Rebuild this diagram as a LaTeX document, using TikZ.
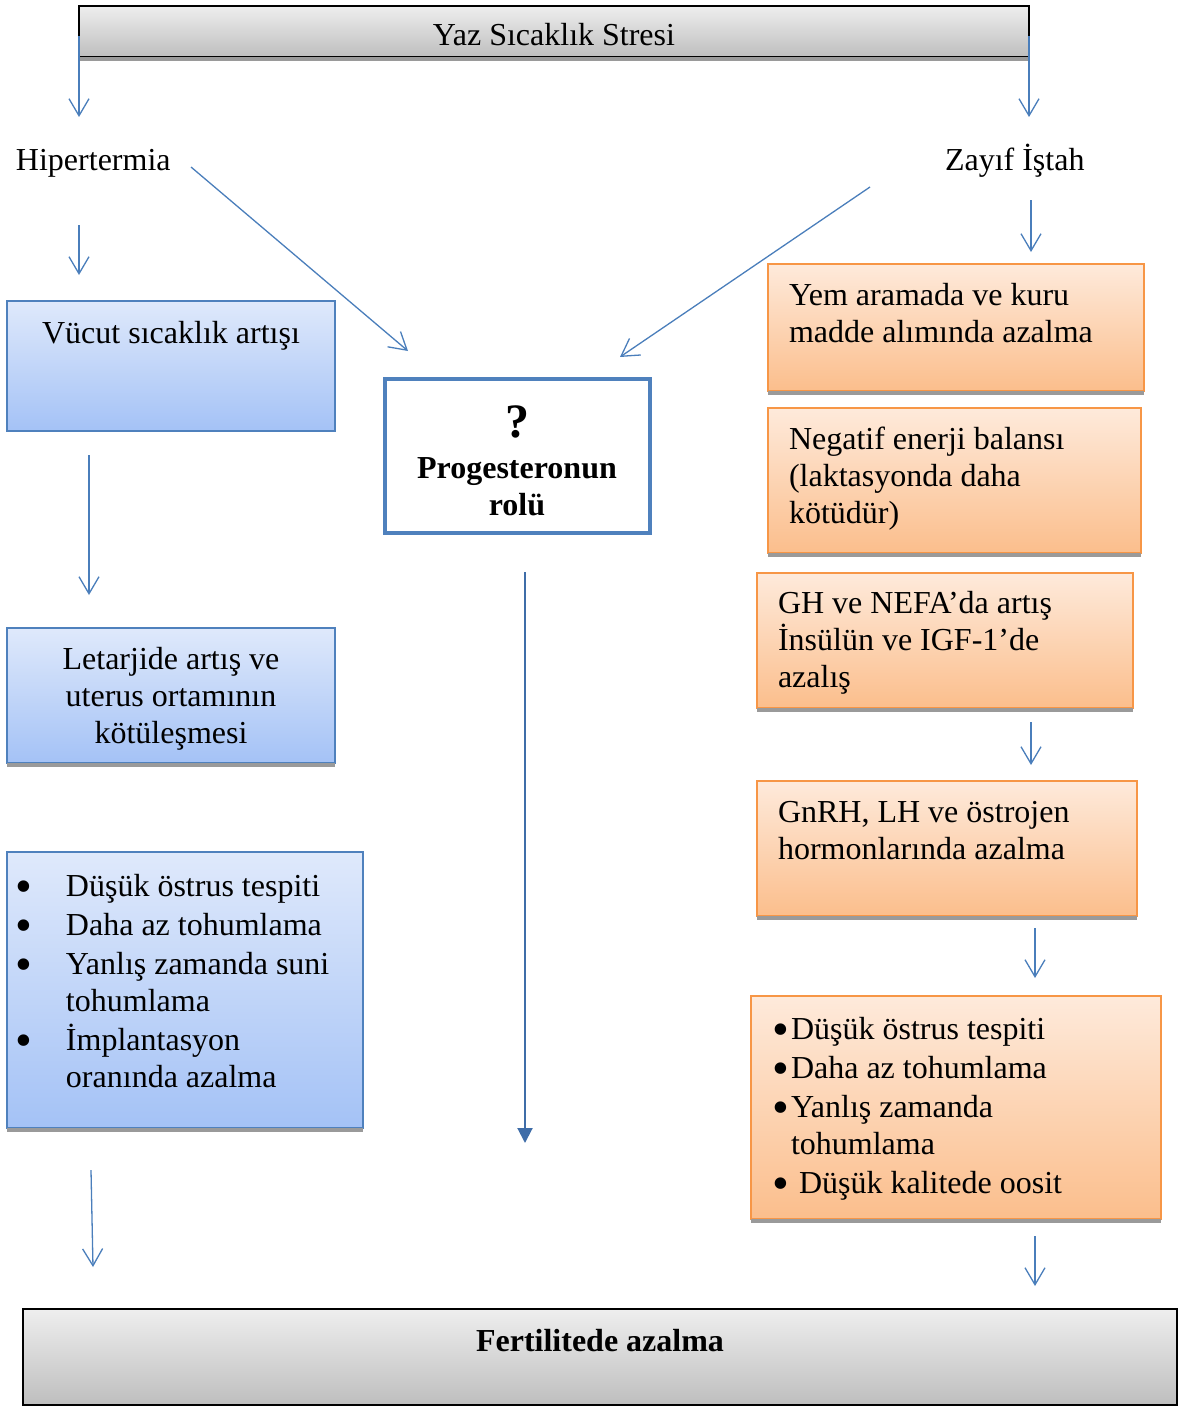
\documentclass[tikz,border=0pt]{standalone}
\usepackage{fontspec}
\setmainfont{Liberation Serif}
\usetikzlibrary{arrows.meta,calc}
\definecolor{arrowblue}{HTML}{4A7EBB}
\definecolor{darkarrow}{HTML}{3F6DA8}
\definecolor{boxblue}{HTML}{4F81BD}
\definecolor{bluetop}{HTML}{DFE9FB}
\definecolor{bluebot}{HTML}{A4C2F6}
\definecolor{orangeborder}{HTML}{F79646}
\definecolor{orangetop}{HTML}{FEEADB}
\definecolor{orangebot}{HTML}{FBBE8C}
\definecolor{graytop}{HTML}{EEEEEE}
\definecolor{graybot}{HTML}{BEBEBE}
\definecolor{shadowgray}{HTML}{9A9A9A}
\newcommand\fl{\rule{0pt}{26pt}}
\newcommand\bul[1]{\makebox[#1][l]{\smash{\raisebox{-6pt}{\fontsize{48}{37}\selectfont •}}}}
\begin{document}
\begin{tikzpicture}[x=1pt,y=-1pt,
  every node/.style={inner sep=0pt,outer sep=0pt},
  txt/.style={font=\fontsize{32}{37}\selectfont, align=left},
  ctxt/.style={font=\fontsize{32}{37}\selectfont, align=center},
  btxt/.style={font=\fontsize{32}{37}\selectfont\bfseries, align=center},
  qtxt/.style={font=\fontsize{48}{50}\selectfont\bfseries},
  graybox/.style={draw=black,line width=1.6pt,top color=graytop,bottom color=graybot},
  bluebox/.style={draw=boxblue,line width=1.5pt,top color=bluetop,bottom color=bluebot},
  orangebox/.style={draw=orangeborder,line width=1.5pt,top color=orangetop,bottom color=orangebot},
  centerbox/.style={draw=boxblue,line width=4pt,fill=white},
  shadowstrip/.style={fill=shadowgray},
  arr/.style={draw=arrowblue,line width=1.3pt,-{Straight Barb[length=17pt,width=20pt,line width=1.3pt]}},
  bigarr/.style={draw=darkarrow,line width=2pt,-{Triangle[length=15pt,width=15pt]}},
]
\useasboundingbox (0,0) rectangle (1184,1407);

% boxes
\node[graybox,minimum width=950pt,minimum height=51pt] (top) at (554,31.5) {};
\node[bluebox,minimum width=328pt,minimum height=130pt] (b1) at (171,366) {};
\node[bluebox,minimum width=328pt,minimum height=135pt] (b2) at (171,695.5) {};
\node[bluebox,minimum width=356pt,minimum height=276pt] (b3) at (185,990) {};
\node[centerbox,minimum width=265pt,minimum height=154pt] (cb) at (517.5,456) {};
\node[orangebox,minimum width=376pt,minimum height=127pt] (o1) at (956,327.5) {};
\node[orangebox,minimum width=373pt,minimum height=145pt] (o2) at (954.5,480.5) {};
\node[orangebox,minimum width=376pt,minimum height=135pt] (o3) at (945,640.5) {};
\node[orangebox,minimum width=380pt,minimum height=135pt] (o4) at (947,848.5) {};
\node[orangebox,minimum width=410pt,minimum height=223pt] (o5) at (956,1107.5) {};
\node[graybox,minimum width=1154pt,minimum height=96pt] (bot) at (600,1357) {};

% shadows
\foreach \b in {top,b2,b3,o1,o2,o3,o4,o5}{
  \fill[shadowstrip] (\b.south west) rectangle ([yshift=-4pt]\b.south east);
}

% texts
\node[ctxt,anchor=base] (ttop) at (554,46) {Yaz Sıcaklık Stresi};
\node[txt,anchor=base west] (hyper) at (16,171) {Hipertermia};
\node[txt,anchor=base west] (istah) at (945,171) {Zayıf İştah};
\node[ctxt,anchor=base] (tb1) at (171,343) {Vücut sıcaklık artışı};
\node[ctxt,anchor=north] (tb2) at (171,643) {\fl Letarjide artış ve\\uterus ortamının\\kötüleşmesi};
\node[txt,anchor=north west] (tb3) at (16,870) {\fl\bul{50pt}Düşük östrus tespiti\\[2pt]
\bul{50pt}Daha az tohumlama\\[2pt]
\bul{50pt}Yanlış zamanda suni\\
\hspace*{50pt}tohumlama\\[2pt]
\bul{50pt}İmplantasyon\\
\hspace*{50pt}oranında azalma};
\node[qtxt,anchor=base] (tq) at (517,437) {?};
\node[btxt,anchor=north] (tcb) at (517,452) {\fl Progesteronun\\rolü};
\node[txt,anchor=north west] (to1) at (789,279) {\fl Yem aramada ve kuru\\madde alımında azalma};
\node[txt,anchor=north west] (to2) at (789,423) {\fl Negatif enerji balansı\\(laktasyonda daha\\kötüdür)};
\node[txt,anchor=north west] (to3) at (778,587) {\fl GH ve NEFA’da artış\\İnsülün ve IGF-1’de\\azalış};
\node[txt,anchor=north west] (to4) at (778,796) {\fl GnRH, LH ve östrojen\\hormonlarında azalma};
\node[txt,anchor=north west] (to5) at (772,1013) {\fl\bul{19pt}Düşük östrus tespiti\\[2pt]
\bul{19pt}Daha az tohumlama\\[2pt]
\bul{19pt}Yanlış zamanda\\
\hspace*{19pt}tohumlama\\[2pt]
\bul{27pt}Düşük kalitede oosit};
\node[btxt,anchor=base] (tbot) at (600,1351) {Fertilitede azalma};

% arrow end points
\coordinate (a1s) at (79,36);   \coordinate (a1e) at (79,117);
\coordinate (a2s) at (1029,36); \coordinate (a2e) at (1029,117);
\coordinate (a3s) at (79,225);  \coordinate (a3e) at (79,275);
\coordinate (a4s) at (191,167); \coordinate (a4e) at (408,351);
\coordinate (a5s) at (870,187); \coordinate (a5e) at (620,357);
\coordinate (a6s) at (1031,200); \coordinate (a6e) at (1031,252);
\coordinate (a7s) at (89,455);  \coordinate (a7e) at (89,595);
\coordinate (a8s) at (91,1170); \coordinate (a8e) at (93,1267);
\coordinate (a9s) at (525,572); \coordinate (a9e) at (525,1143);
\coordinate (a10s) at (1031,722); \coordinate (a10e) at (1031,765);
\coordinate (a11s) at (1035,928); \coordinate (a11e) at (1035,978);
\coordinate (a12s) at (1035,1236); \coordinate (a12e) at (1035,1286);

\draw[arr] (a1s) -- (a1e);
\draw[arr] (a2s) -- (a2e);
\draw[arr] (a3s) -- (a3e);
\draw[arr] (a4s) -- (a4e);
\draw[arr] (a5s) -- (a5e);
\draw[arr] (a6s) -- (a6e);
\draw[arr] (a7s) -- (a7e);
\draw[arr] (a8s) -- (a8e);
\draw[bigarr] (a9s) -- (a9e);
\draw[arr] (a10s) -- (a10e);
\draw[arr] (a11s) -- (a11e);
\draw[arr] (a12s) -- (a12e);
\end{tikzpicture}
\end{document}
